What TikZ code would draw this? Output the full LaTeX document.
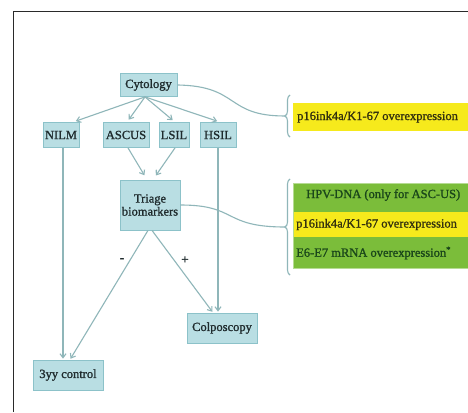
\documentclass[tikz,border=0pt]{standalone}
\usepackage{fontspec}
\setmainfont{Liberation Serif}
\newfontfamily\heavyfont{Liberation Serif}[FakeBold=1.2]
\usetikzlibrary{arrows.meta,decorations.pathreplacing,calc}
\definecolor{boxfill}{HTML}{B9DEE3}
\definecolor{boxline}{HTML}{8CC2C9}
\definecolor{connc}{HTML}{8FB6B9}
\definecolor{ylw}{HTML}{F6EA1C}
\definecolor{grn}{HTML}{7BBD3A}
\definecolor{txt}{HTML}{1F2B2D}
\definecolor{gtxt}{HTML}{1A461A}
\definecolor{ytxt}{HTML}{33310E}
\definecolor{framec}{HTML}{2A2A2A}
\begin{document}
\begin{tikzpicture}[x=1pt,y=-1pt,
  box/.style={draw=boxline, fill=boxfill, line width=0.8pt, inner sep=0pt,
    text=txt, font=\heavyfont\fontsize{12.5}{13}\selectfont, align=center},
  link/.style={draw=connc, line width=1.1pt},
  arr/.style={link, -{Straight Barb[length=4pt,width=6pt]}},
  bracec/.style={draw=connc, line width=1.1pt,
    decorate, decoration={brace, amplitude=5pt}},
  sign/.style={text=txt, font=\heavyfont\fontsize{13}{14}\selectfont, inner sep=1pt},
  rtext/.style={anchor=west, inner sep=0pt, font=\heavyfont\fontsize{12.5}{13}\selectfont}
]
\useasboundingbox (0,0) rectangle (468,412);
\fill[white] (0,0) rectangle (468,412);
% frame
\draw[framec, line width=0.9pt] (13,412) -- (13,11) -- (468,11);

% nodes
\node[box, minimum width=57pt, minimum height=23pt] (cyt) at (148.5,85) {Cytology};
\node[box, minimum width=36pt, minimum height=25pt] (nilm) at (61,135) {NILM};
\node[box, minimum width=46pt, minimum height=25pt] (ascus) at (126,135) {ASCUS};
\node[box, minimum width=30pt, minimum height=25pt] (lsil) at (174,135) {LSIL};
\node[box, minimum width=36pt, minimum height=25pt] (hsil) at (218,135) {HSIL};
\node[box, minimum width=60pt, minimum height=50pt] (tri) at (150,205) {Triage\\biomarkers};
\node[box, minimum width=70pt, minimum height=30pt] (colp) at (222,328) {Colposcopy};
\node[box, minimum width=70pt, minimum height=30pt] (ctrl) at (68,375) {3yy control};

% arrows from cytology
\coordinate (fan) at ($(cyt.south)+(-3.5,0)$);
\draw[arr, shorten >=3pt] (fan) -- ($(nilm.north)+(12,0)$);
\draw[arr, shorten >=3pt] (fan) -- ($(ascus.north)+(1,0)$);
\draw[arr, shorten >=3pt] (fan) -- ($(lsil.north)+(1,0)$);
\draw[arr, shorten >=3pt] (fan) -- ($(hsil.north)+(2,0)$);

% to triage
\draw[arr, shorten >=5pt] ($(ascus.south)+(2,0)$) -- ($(tri.north)+(-3,0)$);
\draw[arr, shorten >=5pt] ($(lsil.south)+(1,0)$) -- ($(tri.north)+(3,0)$);

% long verticals
\draw[arr, shorten >=1pt] ($(nilm.south)+(2,0)$) -- ($(ctrl.north)+(-5,0)$);
\draw[arr, shorten >=1pt] (hsil.south) -- ($(colp.north)+(-4,0)$);

% from triage
\draw[arr, shorten >=1pt] ($(tri.south)+(-2,0)$) -- ($(ctrl.north)+(2,0)$);
\draw[arr, shorten >=1pt] ($(tri.south)+(2,0)$) -- ($(colp.north)+(-9,0)$);
\node[sign] (minus) at (122,260) {-};
\node[sign] (plus) at (185,260) {+};

% right side panels
\begin{scope}
\clip (0,0) rectangle (468,412);
\fill[ylw] (293,103) rectangle (480,131);
\node[rtext, text=ytxt] (t1) at (297,117) {p16ink4a/K1-67 overexpression};
\fill[grn] (293,183) rectangle (480,268);
\fill[ylw] (293,212) rectangle (480,237);
\draw[grn!55!white, line width=0.7pt] (480,183) -- (293,183) -- (293,268) -- (480,268);
\node[rtext, text=gtxt] (t2) at (306,195) {HPV-DNA (only for ASC-US)};
\node[rtext, text=ytxt] (t3) at (296,224.5) {p16ink4a/K1-67 overexpression};
\node[rtext, text=gtxt] (t4) at (296,253) {E6-E7 mRNA overexpression\textsuperscript{*}};
\end{scope}

% braces
\coordinate (b1) at (285,116);
\coordinate (b2) at (285,227);
\draw[bracec] (290,137) -- (290,95);
\draw[bracec] (290,275) -- (290,179);

% curved connectors
\draw[link] (cyt.east) .. controls (240,86) and (225,116) .. (b1);
\draw[link] (tri.east) .. controls (238,205) and (222,227) .. (b2);
\end{tikzpicture}
\end{document}
